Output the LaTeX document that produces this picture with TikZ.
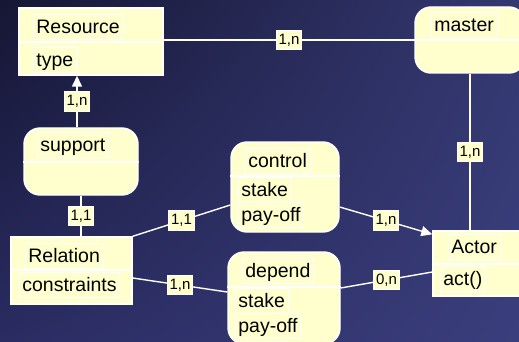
\documentclass[tikz,border=0pt]{standalone}
\usepackage{fontspec}
\setmainfont{Liberation Sans}
\usetikzlibrary{arrows.meta, calc, shadings}
\definecolor{boxyellow}{RGB}{255,255,206}
\definecolor{bgtl}{RGB}{22,22,52}
\definecolor{bgtr}{RGB}{52,56,112}
\definecolor{bgbl}{RGB}{42,44,98}
\definecolor{bgbr}{RGB}{58,62,124}
\tikzset{
entity/.style={draw=white, line width=1.4pt, fill=boxyellow}, % class boxes
relship/.style={entity, rounded corners=16pt}, % association boxes
txt/.style={draw=white, line width=0.7pt, fill=boxyellow, anchor=west, inner xsep=3pt, inner ysep=2pt, text height=17pt, text depth=4pt, font=\fontsize{19.5}{22}\selectfont}, % texts in the boxes
card/.style={draw=white, line width=0.9pt, fill=boxyellow, inner xsep=2.5pt, inner ysep=2.5pt, text height=11.5pt, text depth=3pt, font=\fontsize{15}{17}\selectfont}, % cardinalities
link/.style={draw=white, line width=1.4pt}, % connectors
div/.style={white, line width=1.2pt}, % dividers
>={Triangle[width=10pt, length=11pt]}, % white filled heads
}

\begin{document}
\begin{tikzpicture}[x=1pt, y=-1pt]
  \useasboundingbox (0,0) rectangle (519,342);
  \clip (0,0) rectangle (519,342);
  \shade[upper left=bgtl, upper right=bgtr, lower left=bgbl, lower right=bgbr] (0,0) rectangle (519,342);

  % Boxes
  \node[entity, minimum width=144pt, minimum height=67pt] (Resource) at (91,41.5) {};
  \node[relship, minimum width=110pt, minimum height=66pt] (master) at (470,40) {};
  \node[relship, minimum width=114pt, minimum height=67pt] (support) at (81,161.5) {};
  \node[entity, minimum width=121pt, minimum height=67pt] (Relation) at (71.5,270.5) {};
  \node[relship, minimum width=108pt, minimum height=90pt] (control) at (285,187) {};
  \node[relship, minimum width=112pt, minimum height=92pt] (depend) at (284,298) {};
  \node[entity, minimum width=96pt, minimum height=65pt] (Actor) at (481,263.5) {};

  % Dividers
  \draw[div] (Resource.west |- 0,42) -- (Resource.east |- 0,42);
  \draw[div] (master.west |- 0,40) -- (master.east |- 0,40);
  \draw[div] (support.west |- 0,162) -- (support.east |- 0,162);
  \draw[div] (Relation.west |- 0,270) -- (Relation.east |- 0,270);
  \draw[div] (control.west |- 0,176) -- (control.east |- 0,176);
  \draw[div] (depend.west |- 0,287) -- (depend.east |- 0,287);
  \draw[div] (Actor.west |- 0,264) -- (Actor.east |- 0,264);

  % Texts
  \node[txt] (restitle) at (33,27) {Resource};
  \node[txt] (restype) at (33,60) {type};
  \node[txt] (mastitle) at (431,25) {master};
  \node[txt] (suptitle) at (37,145) {support};
  \node[txt] (reltitle) at (25,255.5) {Relation};
  \node[txt] (relcons) at (19,284.5) {constraints};
  \node[txt] (contitle) at (245,161) {control};
  \node[txt] (constake) at (238,190) {stake};
  \node[txt] (conpay) at (238,215) {pay-off};
  \node[txt] (deptitle) at (242,271) {depend};
  \node[txt] (depstake) at (235,300.5) {stake};
  \node[txt] (deppay) at (235,326) {pay-off};
  \node[txt] (acttitle) at (448,247) {Actor};
  \node[txt] (actop) at (440,279) {act()};

  % Links
  \coordinate (supn) at ($(support.north)+(-4,0)$);
  \draw[link] (Resource.east |- master.west) -- node[card] (c1) {1,n} (master.west);
  \draw[link, ->] (supn) -- node[card] (c2) {1,n} (supn |- Resource.south);
  \draw[link] (support.south) -- node[card] (c3) {1,1} (support.south |- Relation.north);
  \draw[link] (master.south) -- node[card] (c4) {1,n} (master.south |- Actor.north);
  \draw[link] (Relation.north east) -- node[card] (c5) {1,1} ($(control.west)+(0,18)$);
  \draw[link] ($(Relation.east)+(0,7.5)$) -- node[card] (c6) {1,n} ($(depend.west)+(0,-6)$);
  \draw[link, ->] ($(control.east)+(0,20)$) -- node[card] (c7) {1,n} ($(Actor.north west)+(0,4)$);
  \draw[link] ($(depend.east)+(0,-10)$) -- node[card] (c8) {0,n} ($(Actor.west)+(0,8.5)$);
\end{tikzpicture}
\end{document}
